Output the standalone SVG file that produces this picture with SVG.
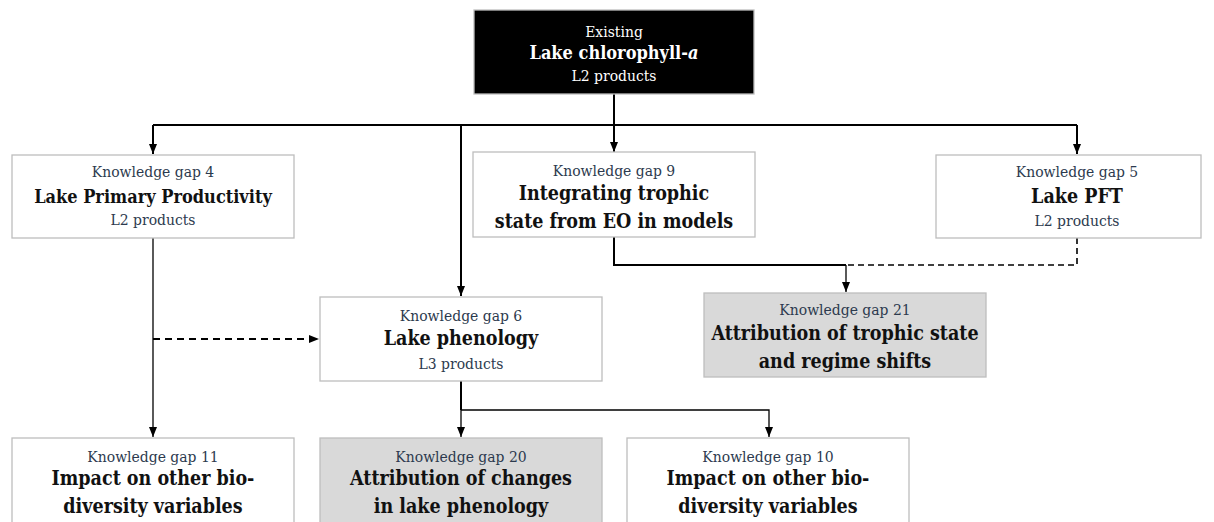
<svg xmlns="http://www.w3.org/2000/svg" width="1214" height="522" viewBox="0 0 1214 522">
  <style>
    .box { fill: #ffffff; stroke: #bdbdbd; stroke-width: 1.3; }
    .grey { fill: #d9d9d9; }
    .dark { fill: #000000; stroke: #bdbdbd; stroke-width: 1.3; }
    text { font-family: "DejaVu Serif", "Liberation Serif", serif; font-stretch: condensed; text-anchor: middle; }
    .kg { font-size: 15.5px; fill: #2c3a4e; }
    .t { font-size: 19.5px; font-weight: bold; fill: #111111; }
    .ts { font-size: 18px; font-weight: bold; fill: #111111; }
    .sub { font-size: 15.5px; fill: #2c3a4e; }
    .w { fill: #ffffff; }
    .thick { fill: none; stroke: #000; stroke-width: 2; }
    .thin { fill: none; stroke: #000; stroke-width: 1.3; }
    .dash { fill: none; stroke: #000; stroke-width: 1.6; stroke-dasharray: 6 4; }
    .dash-bold { fill: none; stroke: #000; stroke-width: 2.2; stroke-dasharray: 7 5; }
  </style>
  <defs>
    <marker id="arrow" markerUnits="userSpaceOnUse" markerWidth="10" markerHeight="10" viewBox="0 0 10 10" refX="10" refY="5" orient="auto">
      <path d="M0,1 L10,5 L0,9 Z" fill="#000"/>
    </marker>
  </defs>

  <!-- connectors -->
  <g id="connectors">
    <path class="thick" d="M614,94 V125"/>
    <path class="thick" d="M153,125 H1077"/>
    <path class="thick" d="M153,125 V154" marker-end="url(#arrow)"/>
    <path class="thick" d="M614,125 V152" marker-end="url(#arrow)"/>
    <path class="thick" d="M1077,125 V154" marker-end="url(#arrow)"/>
    <path class="thick" d="M461,125 V296" marker-end="url(#arrow)"/>
    <path class="thick" d="M614,237 V265 H846"/>
    <path class="thin" d="M846,265 V292" marker-end="url(#arrow)"/>
    <path class="dash" d="M1077,238 V265 H846"/>
    <path class="thin" d="M153,238 V437" marker-end="url(#arrow)"/>
    <path class="dash-bold" d="M153,339 H319" marker-end="url(#arrow)"/>
    <path class="thick" d="M461,381 V410"/>
    <path class="thin" d="M461,410 V437" marker-end="url(#arrow)"/>
    <path class="thin" d="M461,410 H769 V437" marker-end="url(#arrow)"/>
  </g>

  <!-- existing product -->
  <g id="chl">
    <rect class="dark" x="474" y="10" width="280" height="84"/>
    <text class="sub w" x="614" y="37">Existing</text>
    <text class="ts w" x="614" y="59">Lake chlorophyll-<tspan font-style="italic">a</tspan></text>
    <text class="sub w" x="614" y="81">L2 products</text>
  </g>

  <g id="kg4">
    <rect class="box" x="12" y="155" width="282" height="83"/>
    <text class="kg" x="153" y="177">Knowledge gap 4</text>
    <text class="ts" x="153" y="203">Lake Primary Productivity</text>
    <text class="sub" x="153" y="225">L2 products</text>
  </g>

  <g id="kg9">
    <rect class="box" x="473" y="152" width="282" height="85"/>
    <text class="kg" x="614" y="176">Knowledge gap 9</text>
    <text class="t" x="614" y="200">Integrating trophic</text>
    <text class="t" x="614" y="228">state from EO in models</text>
  </g>

  <g id="kg5">
    <rect class="box" x="936" y="155" width="265" height="83"/>
    <text class="kg" x="1077" y="177">Knowledge gap 5</text>
    <text class="t" x="1077" y="203">Lake PFT</text>
    <text class="sub" x="1077" y="226">L2 products</text>
  </g>

  <g id="kg6">
    <rect class="box" x="320" y="297" width="282" height="84"/>
    <text class="kg" x="461" y="321">Knowledge gap 6</text>
    <text class="t" x="461" y="345">Lake phenology</text>
    <text class="sub" x="461" y="369">L3 products</text>
  </g>

  <g id="kg21">
    <rect class="box grey" x="704" y="293" width="282" height="84"/>
    <text class="kg" x="845" y="315">Knowledge gap 21</text>
    <text class="t" x="845" y="340">Attribution of trophic state</text>
    <text class="t" x="845" y="368">and regime shifts</text>
  </g>

  <g id="kg11">
    <rect class="box" x="12" y="438" width="282" height="90"/>
    <text class="kg" x="153" y="462">Knowledge gap 11</text>
    <text class="t" x="153" y="485">Impact on other bio-</text>
    <text class="t" x="153" y="513">diversity variables</text>
  </g>

  <g id="kg20">
    <rect class="box grey" x="320" y="438" width="282" height="90"/>
    <text class="kg" x="461" y="462">Knowledge gap 20</text>
    <text class="t" x="461" y="485">Attribution of changes</text>
    <text class="t" x="461" y="513">in lake phenology</text>
  </g>

  <g id="kg10">
    <rect class="box" x="627" y="438" width="282" height="90"/>
    <text class="kg" x="768" y="462">Knowledge gap 10</text>
    <text class="t" x="768" y="485">Impact on other bio-</text>
    <text class="t" x="768" y="513">diversity variables</text>
  </g>
</svg>
